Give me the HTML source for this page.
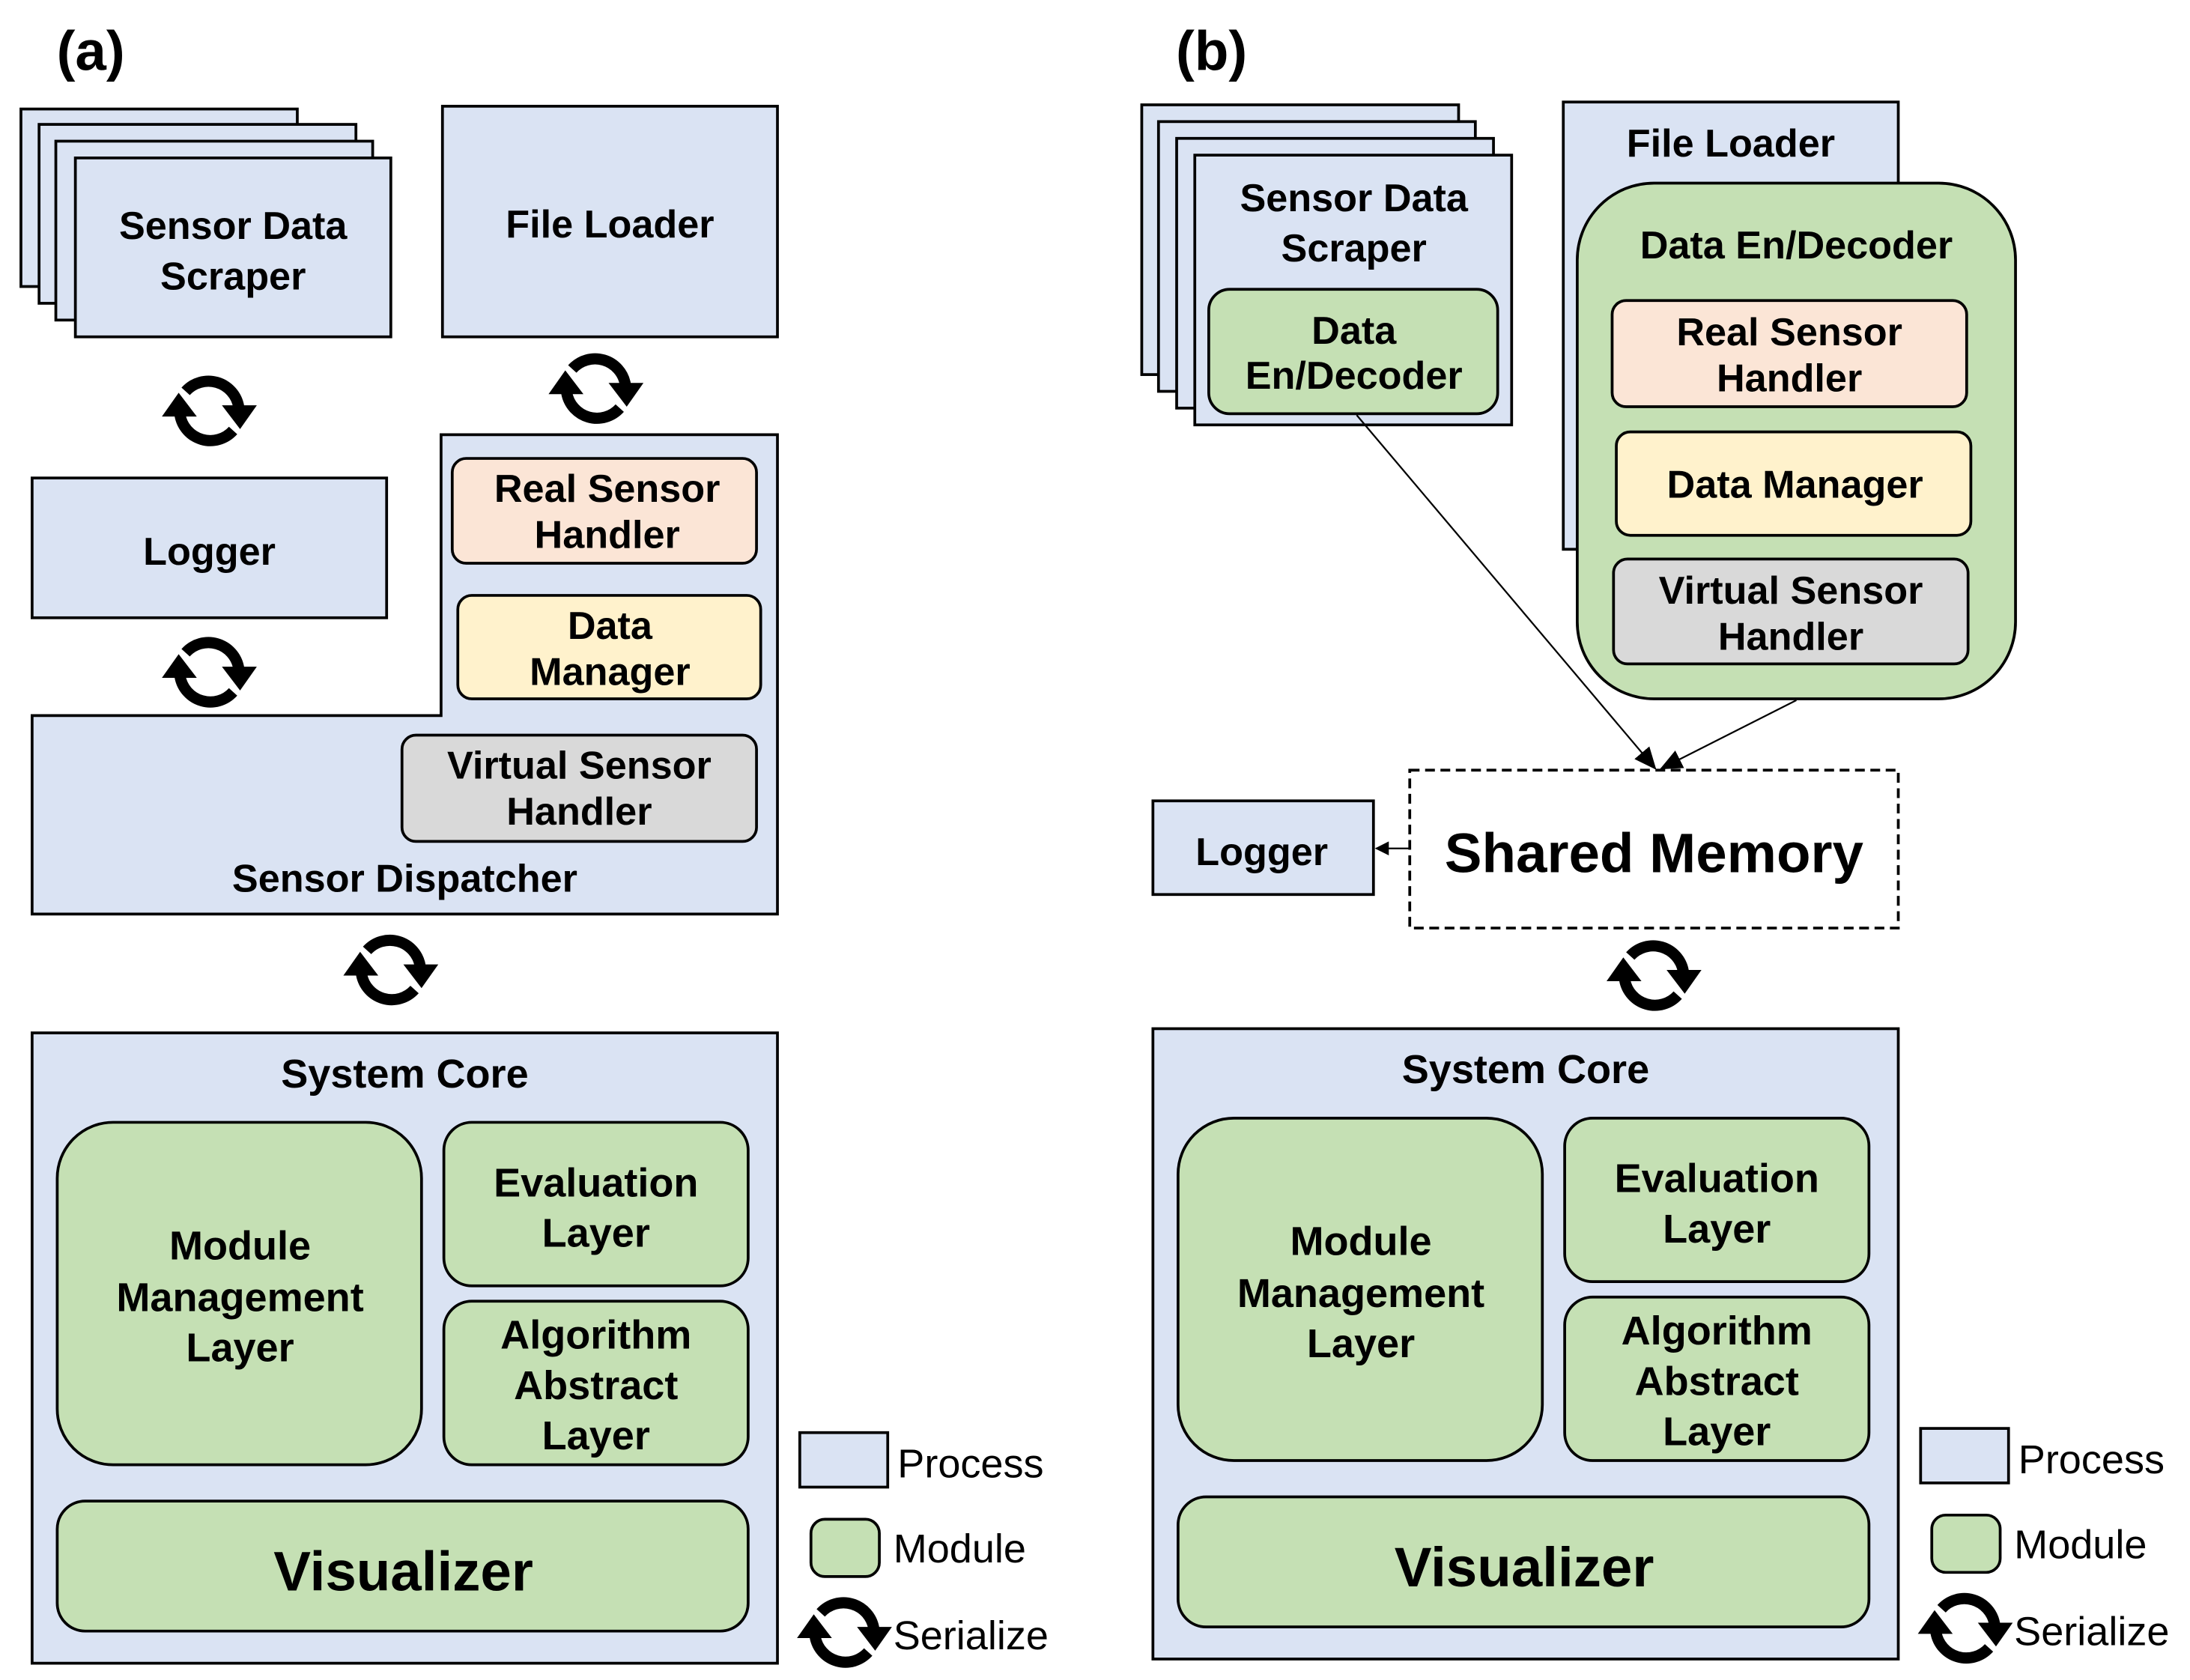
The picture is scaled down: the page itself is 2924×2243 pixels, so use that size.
<!DOCTYPE html>
<html><head><meta charset="utf-8"><style>
html,body{margin:0;padding:0;background:#fff}
svg{display:block}
text{font-family:"Liberation Sans",sans-serif;font-weight:bold;fill:#000;text-anchor:middle}
.n{font-weight:normal;text-anchor:start}
</style></head><body>
<svg width="2924" height="2243" viewBox="0 0 1569 1202" preserveAspectRatio="none" xmlns="http://www.w3.org/2000/svg">
<defs>
<g id="ser">
<path d="M-17,-14 A22,22 0 0 1 21,-3" fill="none" stroke="#000" stroke-width="8"/>
<polygon points="9,-4 34,-4 22,13" fill="#000"/>
<path d="M17,14 A22,22 0 0 1 -21,3" fill="none" stroke="#000" stroke-width="8"/>
<polygon points="-9,4 -34,4 -22,-13" fill="#000"/>
</g>
<marker id="ah" markerWidth="10" markerHeight="10" refX="9" refY="5" orient="auto" markerUnits="userSpaceOnUse"><path d="M0,0 L10,5 L0,10 z" fill="#000"/></marker>
<marker id="ah2" markerWidth="16" markerHeight="14" refX="15" refY="7" orient="auto" markerUnits="userSpaceOnUse"><path d="M0,0 L16,7 L0,14 z" fill="#000"/></marker>
</defs>
<g stroke="#000" stroke-width="2">
<!-- (a) -->
<rect x="15" y="78" width="198" height="127" fill="#dae3f3"/>
<rect x="28" y="89" width="227" height="128" fill="#dae3f3"/>
<rect x="40" y="101" width="227" height="128" fill="#dae3f3"/>
<rect x="54" y="113" width="226" height="128" fill="#dae3f3"/>
<rect x="317" y="76" width="240" height="165" fill="#dae3f3"/>
<rect x="23" y="342" width="254" height="100" fill="#dae3f3"/>
<polygon points="316,311 557,311 557,654 23,654 23,512 316,512" fill="#dae3f3"/>
<rect x="324" y="328" width="218" height="75" rx="10" fill="#fbe5d6"/>
<rect x="328" y="426" width="217" height="74" rx="10" fill="#fff2cc"/>
<rect x="288" y="526" width="254" height="76" rx="10" fill="#d9d9d9"/>
</g>
<g id="core">
<rect x="23" y="739" width="534" height="451" fill="#dae3f3" stroke="#000" stroke-width="2"/>
<rect x="41" y="803" width="261" height="245" rx="40" fill="#c5e0b4" stroke="#000" stroke-width="2"/>
<rect x="318" y="803" width="218" height="117" rx="20" fill="#c5e0b4" stroke="#000" stroke-width="2"/>
<rect x="318" y="931" width="218" height="117" rx="20" fill="#c5e0b4" stroke="#000" stroke-width="2"/>
<rect x="41" y="1074" width="495" height="93" rx="20" fill="#c5e0b4" stroke="#000" stroke-width="2"/>
<g font-size="29">
<text x="290" y="778">System Core</text>
<text x="172" y="901">Module</text>
<text x="172" y="938">Management</text>
<text x="172" y="974">Layer</text>
<text x="427" y="856">Evaluation</text>
<text x="427" y="892">Layer</text>
<text x="427" y="965">Algorithm</text>
<text x="427" y="1001">Abstract</text>
<text x="427" y="1037">Layer</text>
</g>
<text x="289" y="1138" font-size="40">Visualizer</text>
<rect x="573" y="1025" width="63" height="39" fill="#dae3f3" stroke="#000" stroke-width="2"/>
<rect x="581" y="1087" width="49" height="41" rx="10" fill="#c5e0b4" stroke="#000" stroke-width="2"/>
<use href="#ser" x="605" y="1168"/>
<g font-size="29">
<text class="n" x="643" y="1057">Process</text>
<text class="n" x="640" y="1118">Module</text>
<text class="n" x="640" y="1180">Serialize</text>
</g>
</g>
<use href="#core" x="803" y="-3"/>
<text x="65" y="50" font-size="40">(a)</text>
<g font-size="28">
<text x="167" y="171">Sensor Data</text>
<text x="167" y="207">Scraper</text>
<text x="437" y="170">File Loader</text>
<text x="150" y="404">Logger</text>
<text x="435" y="359">Real Sensor</text>
<text x="435" y="392">Handler</text>
<text x="437" y="457">Data</text>
<text x="437" y="490">Manager</text>
<text x="415" y="557">Virtual Sensor</text>
<text x="415" y="590">Handler</text>
<text x="290" y="638">Sensor Dispatcher</text>
</g>
<use href="#ser" x="150" y="294"/>
<use href="#ser" x="427" y="278"/>
<use href="#ser" x="150" y="481"/>
<use href="#ser" x="280" y="694"/>
<!-- (b) -->
<text x="868" y="50" font-size="40">(b)</text>
<g stroke="#000" stroke-width="2">
<rect x="818" y="75" width="227" height="193" fill="#dae3f3"/>
<rect x="830" y="87" width="227" height="193" fill="#dae3f3"/>
<rect x="843" y="99" width="227" height="193" fill="#dae3f3"/>
<rect x="856" y="111" width="227" height="193" fill="#dae3f3"/>
<rect x="866" y="207" width="207" height="89" rx="15" fill="#c5e0b4"/>
<rect x="1120" y="73" width="240" height="320" fill="#dae3f3"/>
<rect x="1130" y="131" width="314" height="369" rx="55" fill="#c5e0b4"/>
<rect x="1155" y="215" width="254" height="76" rx="10" fill="#fbe5d6"/>
<rect x="1158" y="309" width="254" height="74" rx="10" fill="#fff2cc"/>
<rect x="1156" y="400" width="254" height="75" rx="10" fill="#d9d9d9"/>
<rect x="826" y="573" width="158" height="67" fill="#dae3f3"/>
<rect x="1010" y="551" width="350" height="113" fill="#fff" stroke-dasharray="7,4"/>
</g>
<line x1="972" y1="297" x2="1186" y2="550" stroke="#000" stroke-width="1.2" marker-end="url(#ah2)"/>
<line x1="1287" y1="501" x2="1190" y2="550" stroke="#000" stroke-width="1.2" marker-end="url(#ah2)"/>
<line x1="1010" y1="607" x2="986" y2="607" stroke="#000" stroke-width="1.2" marker-end="url(#ah)"/>
<g font-size="28">
<text x="970" y="151">Sensor Data</text>
<text x="970" y="187">Scraper</text>
<text x="970" y="246">Data</text>
<text x="970" y="278">En/Decoder</text>
<text x="1240" y="112">File Loader</text>
<text x="1287" y="185">Data En/Decoder</text>
<text x="1282" y="247">Real Sensor</text>
<text x="1282" y="280">Handler</text>
<text x="1286" y="356">Data Manager</text>
<text x="1283" y="432">Virtual Sensor</text>
<text x="1283" y="465">Handler</text>
<text x="904" y="619">Logger</text>
</g>
<text x="1185" y="624" font-size="40">Shared Memory</text>
<use href="#ser" x="1185" y="698"/>
</svg>
</body></html>
